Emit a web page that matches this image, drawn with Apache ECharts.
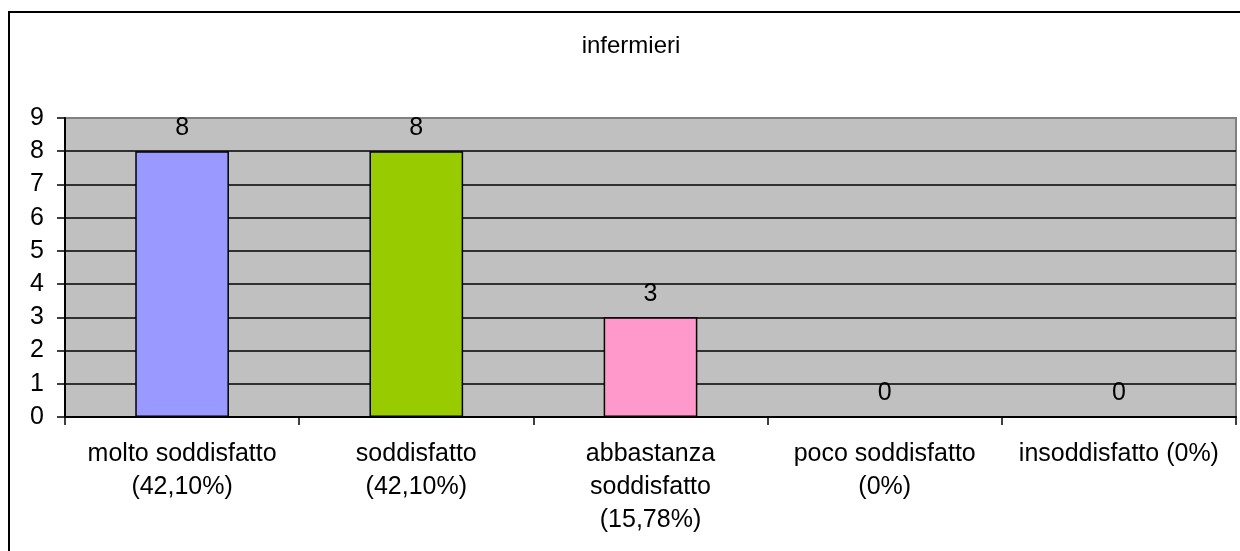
<!DOCTYPE html>
<html>
<head>
<meta charset="utf-8">
<script src="https://cdn.jsdelivr.net/npm/echarts@6/dist/echarts.min.js"></script>
<style>
  html, body { margin: 0; padding: 0; background: #ffffff; }
  #chart { width: 1240px; height: 551px; }
</style>
</head>
<body>
<div id="chart"></div>
<script>
// Satisfaction levels reported by nurses
const categories = [
  'molto soddisfatto\n(42,10%)',
  'soddisfatto\n(42,10%)',
  'abbastanza\nsoddisfatto\n(15,78%)',
  'poco soddisfatto\n(0%)',
  'insoddisfatto (0%)'
];
const counts = [8, 8, 3, 0, 0];
const barColors = ['#9999FF', '#99CC00', '#FF99CC', '#9999FF', '#99CC00'];
const chartTitle = 'infermieri';

const FONT = 'Liberation Sans, Arial, sans-serif';

const chart = echarts.init(document.getElementById('chart'), null, { renderer: 'canvas' });

chart.setOption({
  backgroundColor: '#ffffff',
  animation: false,
  graphic: [
    {
      type: 'rect',
      shape: { x: 9, y: 12, width: 1300, height: 600 },
      style: { fill: 'none', stroke: '#000000', lineWidth: 2 },
      z: 100
    },
    {
      type: 'text',
      x: 631,
      y: 46,
      style: {
        text: chartTitle,
        fill: '#000000',
        font: '24px ' + FONT,
        textAlign: 'center',
        textVerticalAlign: 'middle'
      }
    }
  ],
  grid: {
    left: 65,
    top: 118,
    right: 4,
    bottom: 134,
    show: true,
    backgroundColor: '#C0C0C0',
    borderColor: '#808080',
    borderWidth: 2,
    containLabel: false
  },
  xAxis: {
    type: 'category',
    data: categories,
    axisLine: { show: true, lineStyle: { color: '#000000', width: 2 } },
    axisTick: { show: true, alignWithLabel: false, length: 8, lineStyle: { color: '#000000', width: 1.5 } },
    axisLabel: {
      color: '#000000',
      fontFamily: FONT,
      fontSize: 25,
      lineHeight: 33,
      margin: 21,
      interval: 0
    },
    splitLine: { show: false }
  },
  yAxis: {
    type: 'value',
    min: 0,
    max: 9,
    interval: 1,
    axisLine: { show: true, lineStyle: { color: '#000000', width: 2 } },
    axisTick: { show: true, length: 8, lineStyle: { color: '#000000', width: 1.5 } },
    axisLabel: {
      color: '#000000',
      fontFamily: FONT,
      fontSize: 25,
      margin: 21
    },
    splitLine: {
      show: true,
      showMaxLine: false,
      lineStyle: { color: '#000000', width: 1.5 }
    }
  },
  series: [
    {
      type: 'bar',
      data: counts.map((v, i) => ({ value: v, itemStyle: { color: barColors[i] } })),
      barCategoryGap: '60%',
      itemStyle: { borderColor: '#000000', borderWidth: 1.5 },
      label: {
        show: true,
        position: 'top',
        distance: 11,
        color: '#000000',
        fontFamily: FONT,
        fontSize: 25
      }
    }
  ]
});
</script>
</body>
</html>
